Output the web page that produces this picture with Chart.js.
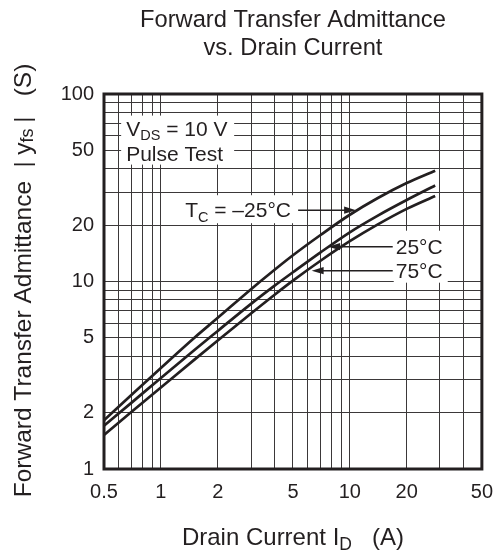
<!DOCTYPE html>
<html><head><meta charset="utf-8">
<script src="https://cdn.jsdelivr.net/npm/chart.js@4.4.1/dist/chart.umd.min.js"></script>
<style>html,body{margin:0;padding:0;background:#fff}#wrap{width:504px;height:555px}</style>
</head><body><div id="wrap"><canvas id="c" width="504" height="555"></canvas></div>
<script>
// ---- data ----
const drainCurrent = [0.5, 0.7, 1, 1.5, 2, 3, 4, 5, 7, 10, 14, 20, 28.3];
const yfsMinus25 = [1.82, 2.49, 3.46, 5.0, 6.4, 9.1, 11.55, 13.8, 17.7, 22.7, 27.8, 33.5, 39.0];
const yfs25      = [1.70, 2.26, 3.06, 4.30, 5.45, 7.6, 9.5, 11.2, 14.3, 18.3, 22.4, 27.2, 32.5];
const yfs75      = [1.52, 2.02, 2.72, 3.82, 4.85, 6.75, 8.5, 10.1, 12.9, 16.4, 20.1, 24.4, 28.6];
const xGrid   = [0.5,0.6,0.7,0.8,0.9,1,2,3,4,5,6,7,8,9,10,20,30,40,50];
const xLabels = [0.5,1,2,5,10,20,50];
const yGrid   = [1,2,3,4,5,6,7,8,9,10,20,30,40,50,60,70,80,90,100];
const yLabels = [1,2,5,10,20,50,100];
const titleLines = ['Forward Transfer Admittance', 'vs. Drain Current'];
const curveNames = ['TC = \u201325\u00B0C', '25\u00B0C', '75\u00B0C'];

const INK = '#231f20';
const FONT = '"Liberation Sans", Arial, Helvetica, sans-serif';

function mk(arr){ return drainCurrent.map((x,i)=>({x:x, y:arr[i]})); }

function subText(ctx, x, y, main, sub, size, subSize, dy){
  ctx.font = size + 'px ' + FONT;
  ctx.fillText(main, x, y);
  let w = ctx.measureText(main).width;
  ctx.font = subSize + 'px ' + FONT;
  ctx.fillText(sub, x + w, y + dy);
  return w + ctx.measureText(sub).width;
}
function arrow(ctx, x0, x1, y){
  const dir = Math.sign(x1 - x0);
  ctx.beginPath(); ctx.moveTo(x0, y); ctx.lineTo(x1 - dir*10, y);
  ctx.lineWidth = 1.4; ctx.strokeStyle = INK; ctx.stroke();
  ctx.beginPath(); ctx.moveTo(x1, y); ctx.lineTo(x1 - dir*12, y - 3.6); ctx.lineTo(x1 - dir*12, y + 3.6); ctx.closePath();
  ctx.fillStyle = INK; ctx.fill();
}

const deco = {
  id: 'deco',
  beforeDatasetsDraw(chart){
    const ctx = chart.ctx, xs = chart.scales.x, ys = chart.scales.y;
    ctx.save();
    ctx.fillStyle = '#fff';
    const cx = xs.getPixelForValue(0.655), cy = ys.getPixelForValue(60);
    ctx.fillRect(cx - 5, cy - 20, 113, 49);
    const t1x = xs.getPixelForValue(10.8), t1y = ys.getPixelForValue(24.0);
    ctx.fillRect(t1x - 174, t1y - 15, 117, 28);
    const lx = xs.getPixelForValue(17.5);
    const t2y = ys.getPixelForValue(15.33), t3y = ys.getPixelForValue(11.42);
    ctx.fillRect(lx - 2, t2y - 16, 54, t3y - t2y + 28);
    ctx.restore();
  },
  afterDatasetsDraw(chart){
    const ctx = chart.ctx, xs = chart.scales.x, ys = chart.scales.y, a = chart.chartArea;
    ctx.save();
    ctx.fillStyle = INK; ctx.textBaseline = 'alphabetic'; ctx.textAlign = 'left';
    const cx = xs.getPixelForValue(0.655), cy = ys.getPixelForValue(60);
    let w = subText(ctx, cx, cy, 'V', 'DS', 21, 14.5, 4.5);
    ctx.font = '21px ' + FONT; ctx.fillText(' = 10 V', cx + w, cy);
    ctx.fillText('Pulse Test', cx, cy + 25.5);
    const t1x = xs.getPixelForValue(10.8), t1y = ys.getPixelForValue(24.0);
    let sx = t1x - 171;
    w = subText(ctx, sx, t1y + 7, 'T', 'C', 21, 14.5, 4.5);
    ctx.font = '21px ' + FONT; ctx.fillText(' = \u201325\u00B0C', sx + w, t1y + 7);
    arrow(ctx, t1x - 58, t1x, t1y);
    const lx = xs.getPixelForValue(17.5);
    const t2x = xs.getPixelForValue(7.68), t2y = ys.getPixelForValue(15.33);
    const t3x = xs.getPixelForValue(6.28), t3y = ys.getPixelForValue(11.42);
    ctx.font = '21px ' + FONT;
    ctx.fillText(curveNames[1], lx, t2y + 7);
    ctx.fillText(curveNames[2], lx, t3y + 7.5);
    arrow(ctx, lx - 3, t2x, t2y);
    arrow(ctx, lx - 3, t3x, t3y);
    ctx.lineWidth = 3; ctx.strokeStyle = INK;
    ctx.strokeRect(a.left, a.top, a.right - a.left, a.bottom - a.top);
    ctx.restore();
  },
  afterDraw(chart){
    const ctx = chart.ctx, a = chart.chartArea;
    const mid = (a.left + a.right) / 2;
    ctx.save();
    ctx.fillStyle = INK;
    ctx.font = '23.7px ' + FONT; ctx.textAlign = 'center'; ctx.textBaseline = 'middle';
    ctx.fillText(titleLines[0], mid, 20);
    ctx.fillText(titleLines[1], mid, 48);
    ctx.textAlign = 'left'; ctx.textBaseline = 'alphabetic';
    const big = '24px ' + FONT, small = '17.5px ' + FONT;
    const parts = [['Drain Current ', big, 0], ['I', big, 0], ['D', small, 5], ['   (A)', big, 0]];
    let tot = 0; parts.forEach(p => { ctx.font = p[1]; tot += ctx.measureText(p[0]).width; });
    let x = mid - tot / 2;
    parts.forEach(p => { ctx.font = p[1]; ctx.fillText(p[0], x, 545 + p[2]); x += ctx.measureText(p[0]).width; });
    // y title (rotated)
    const ymid = (a.top + a.bottom) / 2 - 1;
    ctx.translate(31, ymid); ctx.rotate(-Math.PI / 2);
    const yb = '24.5px ' + FONT;
    const yparts = [['Forward Transfer Admittance  ', yb, 0], ['|', '22px ' + FONT, -1], [' y', yb, 0], ['fs', '18px ' + FONT, 2], [' |', '22px ' + FONT, -1], ['   (S)', yb, 0]];
    tot = 0; yparts.forEach(p => { ctx.font = p[1]; tot += ctx.measureText(p[0]).width; });
    x = -tot / 2;
    yparts.forEach(p => { ctx.font = p[1]; ctx.fillText(p[0], x, p[2]); x += ctx.measureText(p[0]).width; });
    ctx.restore();
  }
};

const lineStyle = { borderColor: INK, borderWidth: 2.7, pointRadius: 0, fill: false, showLine: true, cubicInterpolationMode: 'monotone' };

new Chart(document.getElementById('c'), {
  type: 'scatter',
  data: { datasets: [
    Object.assign({ label: curveNames[0], data: mk(yfsMinus25) }, lineStyle),
    Object.assign({ label: curveNames[1], data: mk(yfs25) }, lineStyle),
    Object.assign({ label: curveNames[2], data: mk(yfs75) }, lineStyle)
  ]},
  options: {
    responsive: false, animation: false, devicePixelRatio: 1,
    layout: { padding: { left: 0, top: 94, right: 19, bottom: 0 } },
    plugins: { legend: { display: false }, title: { display: false }, tooltip: { enabled: false } },
    scales: {
      x: {
        type: 'logarithmic', min: 0.5, max: 50,
        afterBuildTicks: s => { s.ticks = xGrid.map(v => ({ value: v })); },
        afterFit: s => { s.height = 86; },
        grid: { color: '#3b3839', lineWidth: 1, drawTicks: false },
        border: { display: false },
        ticks: { autoSkip: false, maxRotation: 0, padding: 11, color: INK, font: { family: FONT, size: 20 },
          callback: v => xLabels.includes(v) ? String(v) : '' }
      },
      y: {
        type: 'logarithmic', min: 1, max: 100,
        afterBuildTicks: s => { s.ticks = yGrid.map(v => ({ value: v })); },
        afterFit: s => { s.width = 104; },
        grid: { color: '#3b3839', lineWidth: 1, drawTicks: false },
        border: { display: false },
        ticks: { autoSkip: false, padding: 10, color: INK, font: { family: FONT, size: 20 },
          callback: v => yLabels.includes(v) ? String(v) : '' }
      }
    }
  },
  plugins: [deco]
});
</script></body></html>
